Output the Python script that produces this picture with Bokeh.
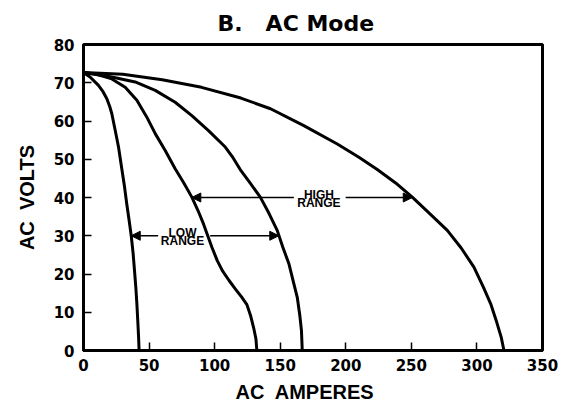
from bokeh.plotting import figure
from bokeh.models import Range1d, FixedTicker, Title, Arrow, NormalHead
from bokeh.core.properties import value
from bokeh.embed import file_html
from bokeh.resources import INLINE

# ---- data ----
c1_amps = [0, 5, 11.4, 15.0, 17.8, 20.0, 21.6, 24.2, 26.7, 29.2, 31.2, 33.0, 34.8, 36.4, 37.8, 38.9, 39.9, 40.7, 41.5, 42.0, 42.4]
c1_volts = [72.7, 71.5, 69.3, 67.6, 65.8, 63.8, 61.9, 57.5, 53.2, 47.5, 43.0, 38.3, 34.0, 30.0, 25.5, 20.9, 16.5, 12.2, 7.0, 3.5, 0]

c2_amps = [0, 10, 21.6, 31.8, 40.7, 48.3, 54.7, 62.3, 69.9, 76.5, 82.6, 87.3, 91.5, 97.9, 102.0, 106.0, 111.0, 116.0, 120.5, 124.6, 127.5, 129.7, 131.5, 132.2]
c2_volts = [72.7, 72.2, 71.0, 68.8, 65.4, 61.0, 56.7, 52.3, 47.5, 43.8, 40.1, 36.6, 33.1, 27.0, 23.5, 20.8, 18.3, 16.0, 14.0, 12.0, 9.0, 6.0, 3.0, 0]

c3_amps = [0, 21.6, 39.4, 54.7, 69.9, 82.6, 95.3, 108.1, 114.0, 119.5, 127.0, 134.8, 141.5, 147.7, 152.0, 156.6, 160.0, 163.0, 165.0, 166.2, 166.8]
c3_volts = [72.7, 71.5, 70.2, 68.0, 64.9, 61.4, 57.5, 53.2, 50.4, 47.3, 43.8, 40.1, 35.8, 31.4, 27.0, 22.7, 18.0, 13.9, 9.0, 5.2, 0]

c4_amps = [0, 30, 60, 90, 120, 142.6, 168.0, 193.5, 210.0, 224.0, 238.0, 250.7, 264.0, 277.4, 288.0, 297.7, 305.0, 310.5, 315.0, 318.5, 320.6]
c4_volts = [72.7, 72.2, 70.8, 68.8, 66.0, 63.2, 58.8, 54.0, 50.5, 47.3, 43.8, 40.1, 35.8, 31.4, 26.8, 21.8, 16.5, 12.2, 7.5, 3.5, 0]

x_ticks = [0, 50, 100, 150, 200, 250, 300, 350]
y_ticks = [0, 10, 20, 30, 40, 50, 60, 70, 80]

# range arrows: (volts, left curve amps, gap start, gap end, right curve amps)
low_v, low_left, low_gap0, low_gap1, low_right = 30, 36.4, 56.9, 96.6, 148.9
high_v, high_left, high_gap0, high_gap1, high_right = 40, 82.6, 160.4, 199.9, 250.7
low_text_x = 75.5
high_text_x = 179.5

FONT = "Liberation Sans"
NUMFONT = "DejaVu Sans"
NB = "\u00a0"

p = figure(frame_width=459, frame_height=306, output_backend="svg", toolbar_location=None,
           x_range=Range1d(0, 350), y_range=Range1d(0, 80),
           min_border_left=83, min_border_top=44, min_border_right=19, min_border_bottom=50)
p.title = None
p.add_layout(Title(text="B." + NB + NB + " AC Mode", align="left", offset=134, text_font_size="22px",
                   text_font=NUMFONT, text_font_style="bold", text_color="black", standoff=17), "above")

p.grid.visible = False
p.outline_line_color = "black"
p.outline_line_width = 3
p.background_fill_color = "white"
p.border_fill_color = "white"

for ax in (p.xaxis[0], p.yaxis[0]):
    ax.axis_line_width = 3
    ax.axis_line_color = "black"
    ax.major_tick_in = 8
    ax.major_tick_out = 0
    ax.major_tick_line_width = 1.5
    ax.major_tick_line_color = "black"
    ax.minor_tick_line_color = None
    ax.major_label_text_font = NUMFONT
    ax.major_label_text_font_style = "bold"
    ax.major_label_text_font_size = "15px"
    ax.major_label_text_color = "black"

p.xaxis.ticker = FixedTicker(ticks=x_ticks)
p.yaxis.ticker = FixedTicker(ticks=y_ticks)
p.xaxis.major_label_standoff = 8
p.yaxis.major_label_standoff = 9

p.yaxis.axis_label = "AC" + NB + " VOLTS"
p.yaxis.axis_label_text_font = FONT
p.yaxis.axis_label_text_font_style = "bold"
p.yaxis.axis_label_text_font_size = "20px"
p.yaxis.axis_label_text_color = "black"
p.yaxis.axis_label_standoff = 13

p.add_layout(Title(text="AC" + NB + " AMPERES", align="left", offset=152, text_font_size="20px",
                   text_font=FONT, text_font_style="bold", text_color="black", standoff=10), "below")

for xs, ys in ((c1_amps, c1_volts), (c2_amps, c2_volts), (c3_amps, c3_volts), (c4_amps, c4_volts)):
    p.line(xs, ys, line_color="black", line_width=3, line_join="round")

def head():
    return NormalHead(size=9, fill_color="black", line_color="black", line_width=1)

for v, a0, g0, g1, a1 in ((low_v, low_left, low_gap0, low_gap1, low_right),
                          (high_v, high_left, high_gap0, high_gap1, high_right)):
    p.add_layout(Arrow(x_start=g0, y_start=v, x_end=a0, y_end=v, end=head(), line_width=1.5))
    p.add_layout(Arrow(x_start=g1, y_start=v, x_end=a1, y_end=v, end=head(), line_width=1.5))

for tx, v, top, bottom in ((low_text_x, low_v, "LOW", "RANGE"), (high_text_x, high_v, "HIGH", "RANGE")):
    p.text(x=[tx], y=[v + 0.6], text=[top], text_align="center", text_baseline="alphabetic",
           text_font=value(FONT), text_font_style="bold", text_font_size="12px")
    p.text(x=[tx], y=[v + 0.5], text=[bottom], text_align="center", text_baseline="top",
           text_font=value(FONT), text_font_style="bold", text_font_size="12px")

open("out.html", "w").write(file_html(p, INLINE))
